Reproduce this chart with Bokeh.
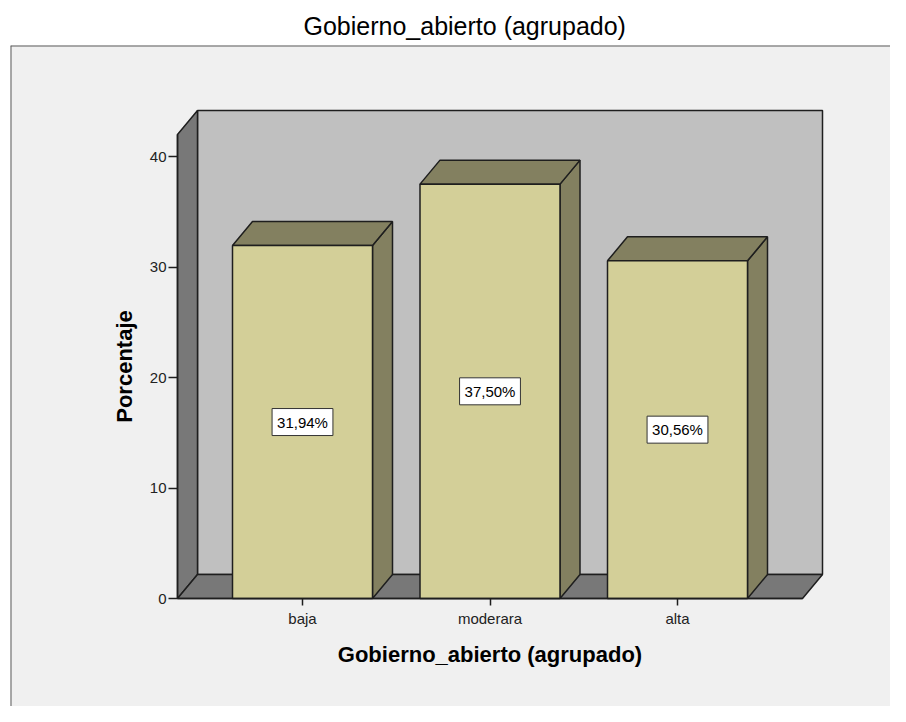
from bokeh.plotting import figure
from bokeh.models import LinearAxis, FixedTicker, Range1d, ColumnDataSource, Span
from bokeh.core.properties import value
from bokeh.embed import file_html
from bokeh.resources import INLINE

# ---- data ----
categories = ["baja", "moderara", "alta"]
percentages = [31.94, 37.50, 30.56]
y_ticks = [0, 10, 20, 30, 40]
wall_top = 42.0

# ---- layout / style constants ----
FONT = "Liberation Sans"
W, H = 890, 706
FRAME_LEFT, FRAME_TOP = 10, 45
PX_PER_CAT = 187.5          # pixels between category centres
PX_PER_UNIT = 11.05         # pixels per percentage point
DEPTH_X_PX, DEPTH_Y_PX = 20, 24
BAR_PX = 140
SIDE_PX = 125               # floor margin beside outer bars
ZERO_FROM_TOP = 553         # px from frame top to value 0
CAT0_FROM_LEFT = 292        # px from frame left to first category

frame_w = W - FRAME_LEFT
frame_h = H - FRAME_TOP
x_start = -CAT0_FROM_LEFT / PX_PER_CAT
x_end = x_start + frame_w / PX_PER_CAT
y_end = ZERO_FROM_TOP / PX_PER_UNIT
y_start = y_end - frame_h / PX_PER_UNIT

dx = DEPTH_X_PX / PX_PER_CAT
dy = DEPTH_Y_PX / PX_PER_UNIT
hw = 0.5 * BAR_PX / PX_PER_CAT
n = len(categories)
x0 = -SIDE_PX / PX_PER_CAT
x1 = (n - 1) + SIDE_PX / PX_PER_CAT

EDGE = "#1e1e1e"
EW = 1.5
FRONT = "#d3cf98"
DARK_FACE = "#838060"
WALL = "#c0c0c0"
FLOOR = "#787878"

p = figure(width=W, height=H, output_backend="svg", toolbar_location=None,
           x_range=Range1d(x_start, x_end), y_range=Range1d(y_start, y_end),
           x_axis_type=None, y_axis_type=None,
           min_border_left=FRAME_LEFT, min_border_right=0,
           min_border_bottom=0, min_border_top=FRAME_TOP)
p.background_fill_color = "#f0f0f0"
p.border_fill_color = "white"
p.outline_line_color = None

p.title.text = "Gobierno_abierto (agrupado)"
p.title.text_font = FONT
p.title.text_font_size = "25px"
p.title.text_font_style = "normal"
p.title.text_color = "#000000"
p.title.align = "left"
p.title.offset = 293
p.title.standoff = 12

# panel border (top and left)
p.add_layout(Span(location=y_end, dimension="width", line_color="#5a5a5a", line_width=2))
p.add_layout(Span(location=x_start, dimension="height", line_color="#5a5a5a", line_width=2))

# ---- 3D walls ----
p.quad(left=[x0 + dx], right=[x1 + dx], bottom=[dy], top=[wall_top + dy],
       fill_color=WALL, line_color=EDGE, line_width=EW)
p.patch(x=[x0, x0, x0 + dx, x0 + dx], y=[0, wall_top, wall_top + dy, dy],
        fill_color=FLOOR, line_color=EDGE, line_width=EW)
p.patch(x=[x0, x0 + dx, x1 + dx, x1], y=[0, dy, dy, 0],
        fill_color=FLOOR, line_color=EDGE, line_width=EW)

# ---- bars ----
idx = list(range(n))
side_xs, side_ys, top_xs, top_ys = [], [], [], []
for i, v in zip(idx, percentages):
    side_xs.append([i + hw, i + hw + dx, i + hw + dx, i + hw])
    side_ys.append([0, dy, v + dy, v])
    top_xs.append([i - hw, i + hw, i + hw + dx, i - hw + dx])
    top_ys.append([v, v, v + dy, v + dy])

for k in range(n):
    p.patch(x=side_xs[k], y=side_ys[k], fill_color=DARK_FACE, line_color=EDGE, line_width=EW)
    p.patch(x=top_xs[k], y=top_ys[k], fill_color=DARK_FACE, line_color=EDGE, line_width=EW)
    p.quad(left=[idx[k] - hw], right=[idx[k] + hw], bottom=[0], top=[percentages[k]],
           fill_color=FRONT, line_color=EDGE, line_width=EW)

# ---- value labels ----
labels = [f"{v:.2f}".replace(".", ",") + "%" for v in percentages]
src = ColumnDataSource(dict(x=idx, y=[v / 2 for v in percentages], text=labels))
p.text(x="x", y="y", text="text", source=src,
       text_font=value(FONT), text_font_size="15px", text_color="#000000",
       text_align="center", text_baseline="middle",
       background_fill_color="white", border_line_color="#333333", border_line_width=1,
       padding=5)

# ---- axes ----
yaxis = LinearAxis(fixed_location=x0, bounds=(0, wall_top),
                   ticker=FixedTicker(ticks=y_ticks),
                   axis_label="Porcentaje")
yaxis.axis_label_text_font = FONT
yaxis.axis_label_text_font_size = "22px"
yaxis.axis_label_text_font_style = "bold"
yaxis.axis_label_text_color = "#000000"
yaxis.axis_label_standoff = 10
yaxis.major_label_text_font = FONT
yaxis.major_label_text_font_size = "15px"
yaxis.major_label_text_color = "#222222"
yaxis.major_label_standoff = 2
yaxis.major_tick_out = 9
yaxis.major_tick_in = 0
yaxis.major_tick_line_color = EDGE
yaxis.major_tick_line_width = EW
yaxis.minor_tick_line_color = None
yaxis.axis_line_color = EDGE
yaxis.axis_line_width = EW
p.add_layout(yaxis, "left")

xaxis = LinearAxis(fixed_location=0, bounds=(x0, x1),
                   ticker=FixedTicker(ticks=idx),
                   major_label_overrides={i: c for i, c in zip(idx, categories)},
                   axis_label="Gobierno_abierto (agrupado)")
xaxis.axis_label_text_font = FONT
xaxis.axis_label_text_font_size = "22px"
xaxis.axis_label_text_font_style = "bold"
xaxis.axis_label_text_color = "#000000"
xaxis.axis_label_standoff = 12
xaxis.major_label_text_font = FONT
xaxis.major_label_text_font_size = "15px"
xaxis.major_label_text_color = "#222222"
xaxis.major_label_standoff = 4
xaxis.major_tick_out = 7
xaxis.major_tick_in = 0
xaxis.major_tick_line_color = EDGE
xaxis.major_tick_line_width = EW
xaxis.minor_tick_line_color = None
xaxis.axis_line_color = EDGE
xaxis.axis_line_width = EW
p.add_layout(xaxis, "below")

open("out.html", "w").write(file_html(p, INLINE))
